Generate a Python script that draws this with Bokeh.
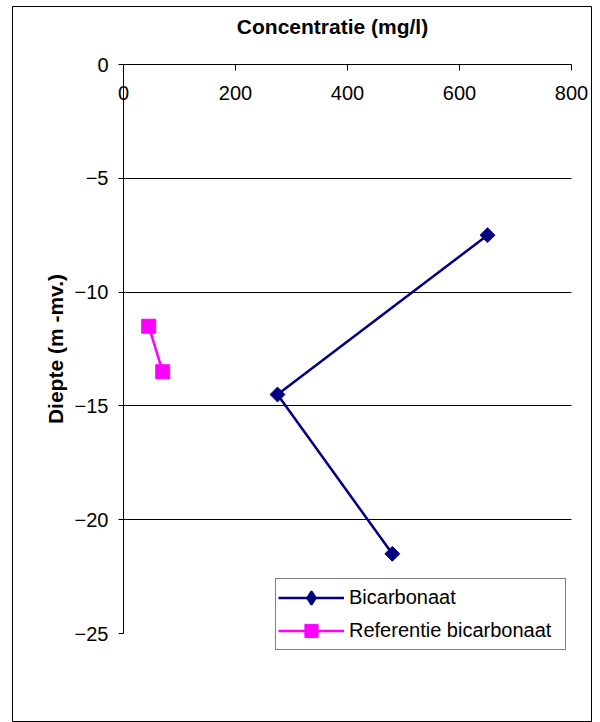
import math

from bokeh.embed import file_html
from bokeh.models import (ColumnDataSource, FixedTicker, Grid, Label, Legend,
                          LegendItem, LinearAxis, Range1d)
from bokeh.plotting import figure
from bokeh.resources import INLINE

# Depth profile: concentration (mg/l) against depth (m below ground level)
bicarbonaat_conc = [650, 275, 480]
bicarbonaat_depth = [-7.5, -14.5, -21.5]
referentie_conc = [45, 70]
referentie_depth = [-11.5, -13.5]

x_ticks = [0, 200, 400, 600, 800]
y_ticks = [0, -5, -10, -15, -20, -25]
grid_ticks = [-5, -10, -15, -20]

FONT = "Liberation Sans"
NAVY = "#000080"
MAGENTA = "#FF00FF"

# Canvas and frame (the frame outline doubles as the chart border)
W, H = 600, 722
FRAME_L, FRAME_T, FRAME_R, FRAME_B = 12, 6, 591, 722
# where the axis extremes sit inside the frame, in pixels
X_LO_PX, X_HI_PX = 123, 571
Y_HI_PX, Y_LO_PX = 64, 633
X_LO, X_HI = 0, 800
Y_LO, Y_HI = -25, 0

x_scale = (X_HI_PX - X_LO_PX) / (X_HI - X_LO)
y_scale = (Y_LO_PX - Y_HI_PX) / (Y_HI - Y_LO)
x_start = X_LO - (X_LO_PX - FRAME_L) / x_scale
x_end = x_start + (FRAME_R - FRAME_L) / x_scale
y_end = Y_HI + (Y_HI_PX - FRAME_T) / y_scale
y_start = y_end - (FRAME_B - FRAME_T) / y_scale

p = figure(width=W, height=H, output_backend="svg", toolbar_location=None,
           title=None,
           x_range=Range1d(x_start, x_end), y_range=Range1d(y_start, y_end),
           x_axis_location=None, y_axis_location=None,
           min_border_left=FRAME_L, min_border_top=FRAME_T,
           min_border_right=W - FRAME_R, min_border_bottom=H - FRAME_B)
p.outline_line_color = "black"
p.outline_line_width = 1
p.background_fill_color = "white"
p.border_fill_color = "white"
# drop the default grids; only horizontal lines between 0 and 800 are drawn
for g in list(p.grid):
    g.visible = False

# Concentration axis sits along depth 0, labels underneath the line
xaxis = LinearAxis(fixed_location=0, bounds=(X_LO, X_HI),
                   ticker=FixedTicker(ticks=x_ticks, minor_ticks=[]))
xaxis.major_tick_out = 6
xaxis.major_tick_in = 0
xaxis.minor_tick_out = 0
xaxis.minor_tick_in = 0
xaxis.major_label_standoff = 15
xaxis.major_label_text_font = FONT
xaxis.major_label_text_font_size = "20px"
xaxis.major_label_text_color = "black"
xaxis.axis_line_color = "black"
xaxis.major_tick_line_color = "black"
p.add_layout(xaxis, "below")

# Depth axis along concentration 0
yaxis = LinearAxis(fixed_location=0, bounds=(Y_LO, Y_HI),
                   ticker=FixedTicker(ticks=y_ticks, minor_ticks=[]),
                   axis_label="Diepte (m -mv.)")
yaxis.major_tick_out = 5
yaxis.major_tick_in = 0
yaxis.minor_tick_out = 0
yaxis.minor_tick_in = 0
yaxis.major_label_standoff = 10
yaxis.major_label_text_font = FONT
yaxis.major_label_text_font_size = "20px"
yaxis.major_label_text_color = "black"
yaxis.axis_label_text_font = FONT
yaxis.axis_label_text_font_size = "21px"
yaxis.axis_label_text_font_style = "bold"
yaxis.axis_label_text_color = "black"
yaxis.axis_label_standoff = 5
yaxis.axis_line_color = "black"
yaxis.major_tick_line_color = "black"
p.add_layout(yaxis, "left")

ygrid = Grid(dimension=1, ticker=FixedTicker(ticks=grid_ticks, minor_ticks=[]),
             cross_bounds=(X_LO, X_HI), grid_line_color="black",
             grid_line_width=1)
p.add_layout(ygrid)

src_b = ColumnDataSource(dict(x=bicarbonaat_conc, y=bicarbonaat_depth))
src_r = ColumnDataSource(dict(x=referentie_conc, y=referentie_depth))

line_b = p.line("x", "y", source=src_b, line_color=NAVY, line_width=2.5)
mark_b = p.scatter("x", "y", source=src_b, marker="square", size=10.5,
                   angle=math.pi / 4, fill_color=NAVY, line_color=NAVY)
# legend key for the diamonds (legend keys are drawn unrotated)
key_b = p.scatter("x", "y", source=src_b, marker="diamond", size=0,
                  fill_color=NAVY, line_color=NAVY, line_width=2)
line_r = p.line("x", "y", source=src_r, line_color=MAGENTA, line_width=2.5)
mark_r = p.scatter("x", "y", source=src_r, marker="square", size=14,
                   fill_color=MAGENTA, line_color=MAGENTA)

legend = Legend(items=[
    LegendItem(label="Bicarbonaat", renderers=[line_b, key_b]),
    LegendItem(label="Referentie bicarbonaat", renderers=[line_r, mark_r]),
], location=(263, 72))
legend.label_text_font = FONT
legend.label_text_font_size = "20px"
legend.label_text_color = "black"
legend.border_line_color = "black"
legend.border_line_width = 1
legend.background_fill_color = "white"
legend.background_fill_alpha = 1
legend.padding = 2
legend.spacing = 0
legend.margin = 0
legend.glyph_width = 66
legend.glyph_height = 33
legend.label_height = 33
legend.label_width = 214
legend.label_standoff = 5
p.add_layout(legend)

title = Label(x=320, y=696, x_units="screen", y_units="screen",
              text="Concentratie (mg/l)", text_font=FONT,
              text_font_size="21px", text_font_style="bold",
              text_align="center", text_baseline="middle",
              text_color="black")
p.add_layout(title)

open("out.html", "w").write(file_html(p, INLINE))
